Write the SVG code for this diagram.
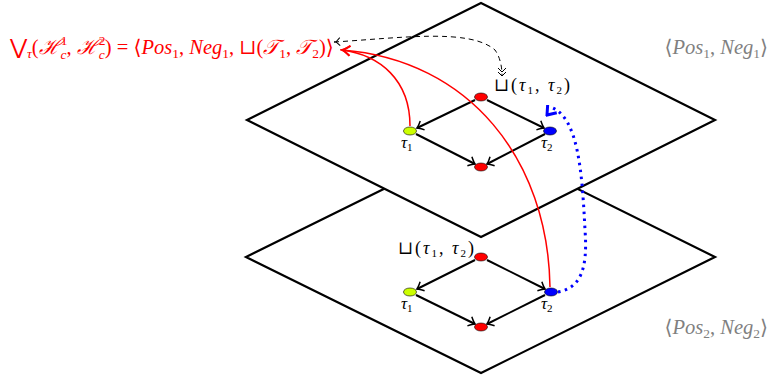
<svg xmlns="http://www.w3.org/2000/svg" width="770" height="376" viewBox="0 0 770 376">
<style>
.plane{fill:#fff;stroke:#000;stroke-width:2.2;stroke-linejoin:miter}
.edge{fill:none;stroke:#000;stroke-width:2}
.red{fill:none;stroke:#ff0000;stroke-width:1.5}
.m{font-family:"Liberation Serif","DejaVu Serif",serif;font-size:20.5px}
.i{font-style:italic}
.s{font-size:13.5px}
.lbl{font-family:"Liberation Serif","DejaVu Serif",serif;font-size:17px;fill:#000}
.sq{font-size:18px;letter-spacing:2px}
.ls{font-size:11px}
.gray{fill:#808080}
</style>
<defs>
<marker id="ah" viewBox="-8 -6 10 12" refX="0" refY="0" markerWidth="10" markerHeight="12" markerUnits="userSpaceOnUse" orient="auto">
<path d="M-6,-5 Q-2,-1 0,0 Q-2,1 -6,5" fill="none" stroke="#000" stroke-width="1.5"/>
</marker>
<marker id="rah" viewBox="-10 -7 12 14" refX="0" refY="0" markerWidth="12" markerHeight="14" markerUnits="userSpaceOnUse" orient="auto">
<path d="M-8,-5 Q-3,-1 0,0 Q-3,1 -8,5" fill="none" stroke="#ff0000" stroke-width="1.8"/>
</marker>
<marker id="dah" viewBox="-10 -6 12 12" refX="0" refY="0" markerWidth="12" markerHeight="12" markerUnits="userSpaceOnUse" orient="auto">
<path d="M-4,-4 L0,0 L-4,4 M-8,-4 L-4,0 L-8,4" fill="none" stroke="#000" stroke-width="1"/>
</marker>
<marker id="tail" viewBox="-2 -6 12 12" refX="0" refY="0" markerWidth="12" markerHeight="12" markerUnits="userSpaceOnUse" orient="auto">
<path d="M6,-4 L2,0 L6,4 M2,0 L0,0" fill="none" stroke="#000" stroke-width="1"/>
</marker>
<marker id="bah" viewBox="-12 -8 14 16" refX="0" refY="0" markerWidth="14" markerHeight="16" markerUnits="userSpaceOnUse" orient="auto">
<path d="M-8,-6 L0,0 L-8,6" fill="none" stroke="#0000ff" stroke-width="3"/>
</marker>
</defs>

<g id="plane2">
<polygon class="plane" points="481,141 715,257 481,373 246,257"/>
</g>
<g id="plane1">
<polygon class="plane" points="481,3 715,120 481,237 247,120"/>
</g>

<g id="connectors">
<line class="edge" x1="475" y1="100" x2="417" y2="128" marker-end="url(#ah)"/>
<line class="edge" x1="487" y1="100" x2="544" y2="128" marker-end="url(#ah)"/>
<line class="edge" x1="416" y1="134" x2="475" y2="164" marker-end="url(#ah)"/>
<line class="edge" x1="545" y1="134" x2="487" y2="164" marker-end="url(#ah)"/>
<line class="edge" x1="475" y1="260" x2="417" y2="289" marker-end="url(#ah)"/>
<line class="edge" x1="487" y1="260" x2="545" y2="289" marker-end="url(#ah)"/>
<line class="edge" x1="416" y1="295" x2="475" y2="324" marker-end="url(#ah)"/>
<line class="edge" x1="545" y1="295" x2="487" y2="324" marker-end="url(#ah)"/>
<path class="red" d="M410,126 C410,80 380,55 342,50" marker-end="url(#rah)"/>
<path class="red" d="M550,287 C548,160 470,60 342,50" marker-end="url(#rah)"/>
<path d="M334,42 C400,38 470,28 495,50 Q502,60 502,76" fill="none" stroke="#000" stroke-width="1" stroke-dasharray="5,4" marker-start="url(#tail)" marker-end="url(#dah)"/>
<path d="M558,292 C580,288 588,270 585,230 C582,170 578,120 553,108" fill="none" stroke="#0000ff" stroke-width="3" stroke-dasharray="2.5,4.5"/>
<path d="M553,108 L547,115" fill="none" stroke="none" marker-end="url(#bah)"/>
</g>

<g id="n1top"><ellipse cx="481" cy="97" rx="6.5" ry="4" fill="#ff0000" stroke="#000" stroke-width="0.6"/></g>
<g id="n1left"><ellipse cx="410" cy="131" rx="6.5" ry="4" fill="#ccff00" stroke="#000" stroke-width="0.6"/></g>
<g id="n1right"><ellipse cx="550" cy="131" rx="6.5" ry="4" fill="#0000ff" stroke="#000" stroke-width="0.6"/></g>
<g id="n1bottom"><ellipse cx="481" cy="167" rx="6.5" ry="4" fill="#ff0000" stroke="#000" stroke-width="0.6"/></g>
<g id="n2top"><ellipse cx="481" cy="257" rx="6.5" ry="4" fill="#ff0000" stroke="#000" stroke-width="0.6"/></g>
<g id="n2left"><ellipse cx="410" cy="292" rx="6.5" ry="4" fill="#ccff00" stroke="#000" stroke-width="0.6"/></g>
<g id="n2right"><ellipse cx="551" cy="292" rx="6.5" ry="4" fill="#0000ff" stroke="#000" stroke-width="0.6"/></g>
<g id="n2bottom"><ellipse cx="481" cy="327" rx="6.5" ry="4" fill="#ff0000" stroke="#000" stroke-width="0.6"/></g>

<g id="labels">
<text class="lbl" x="401" y="148"><tspan class="i">τ</tspan><tspan class="ls" dy="3">1</tspan></text>
<text class="lbl" x="541" y="148"><tspan class="i">τ</tspan><tspan class="ls" dy="3">2</tspan></text>
<text class="lbl" x="401" y="309"><tspan class="i">τ</tspan><tspan class="ls" dy="3">1</tspan></text>
<text class="lbl" x="541" y="309"><tspan class="i">τ</tspan><tspan class="ls" dy="3">2</tspan></text>
<text class="lbl sq" x="494" y="91">⊔(<tspan class="i">τ</tspan><tspan class="ls" dy="3">1</tspan><tspan dy="-3">, </tspan><tspan class="i">τ</tspan><tspan class="ls" dy="3">2</tspan><tspan dy="-3">)</tspan></text>
<text class="lbl sq" x="398" y="254">⊔(<tspan class="i">τ</tspan><tspan class="ls" dy="3">1</tspan><tspan dy="-3">, </tspan><tspan class="i">τ</tspan><tspan class="ls" dy="3">2</tspan><tspan dy="-3">)</tspan></text>
</g>

<g id="title">
<text class="m" x="10" y="54" fill="#ff0000">⋁<tspan class="s i" dy="4">τ</tspan><tspan dy="-4">(</tspan><tspan class="i">ℋ</tspan><tspan class="s" dy="-9">1</tspan><tspan class="s i" dx="-6.8" dy="14">c</tspan><tspan dy="-5">, </tspan><tspan class="i">ℋ</tspan><tspan class="s" dy="-9">2</tspan><tspan class="s i" dx="-6.8" dy="14">c</tspan><tspan dy="-5">) = ⟨</tspan><tspan class="i">Pos</tspan><tspan class="s" dy="4">1</tspan><tspan dy="-4">, </tspan><tspan class="i">Neg</tspan><tspan class="s" dy="4">1</tspan><tspan dy="-4">, ⊔(</tspan><tspan class="i">𝒯</tspan><tspan class="s" dy="4">1</tspan><tspan dy="-4">, </tspan><tspan class="i">𝒯</tspan><tspan class="s" dy="4">2</tspan><tspan dy="-4">)⟩</tspan></text>
</g>
<g id="side">
<text class="m gray" x="768" y="54" text-anchor="end">⟨<tspan class="i">Pos</tspan><tspan class="s" dy="4">1</tspan><tspan dy="-4">, </tspan><tspan class="i">Neg</tspan><tspan class="s" dy="4">1</tspan><tspan dy="-4">⟩</tspan></text>
<text class="m gray" x="768" y="334" text-anchor="end">⟨<tspan class="i">Pos</tspan><tspan class="s" dy="4">2</tspan><tspan dy="-4">, </tspan><tspan class="i">Neg</tspan><tspan class="s" dy="4">2</tspan><tspan dy="-4">⟩</tspan></text>
</g>
</svg>
